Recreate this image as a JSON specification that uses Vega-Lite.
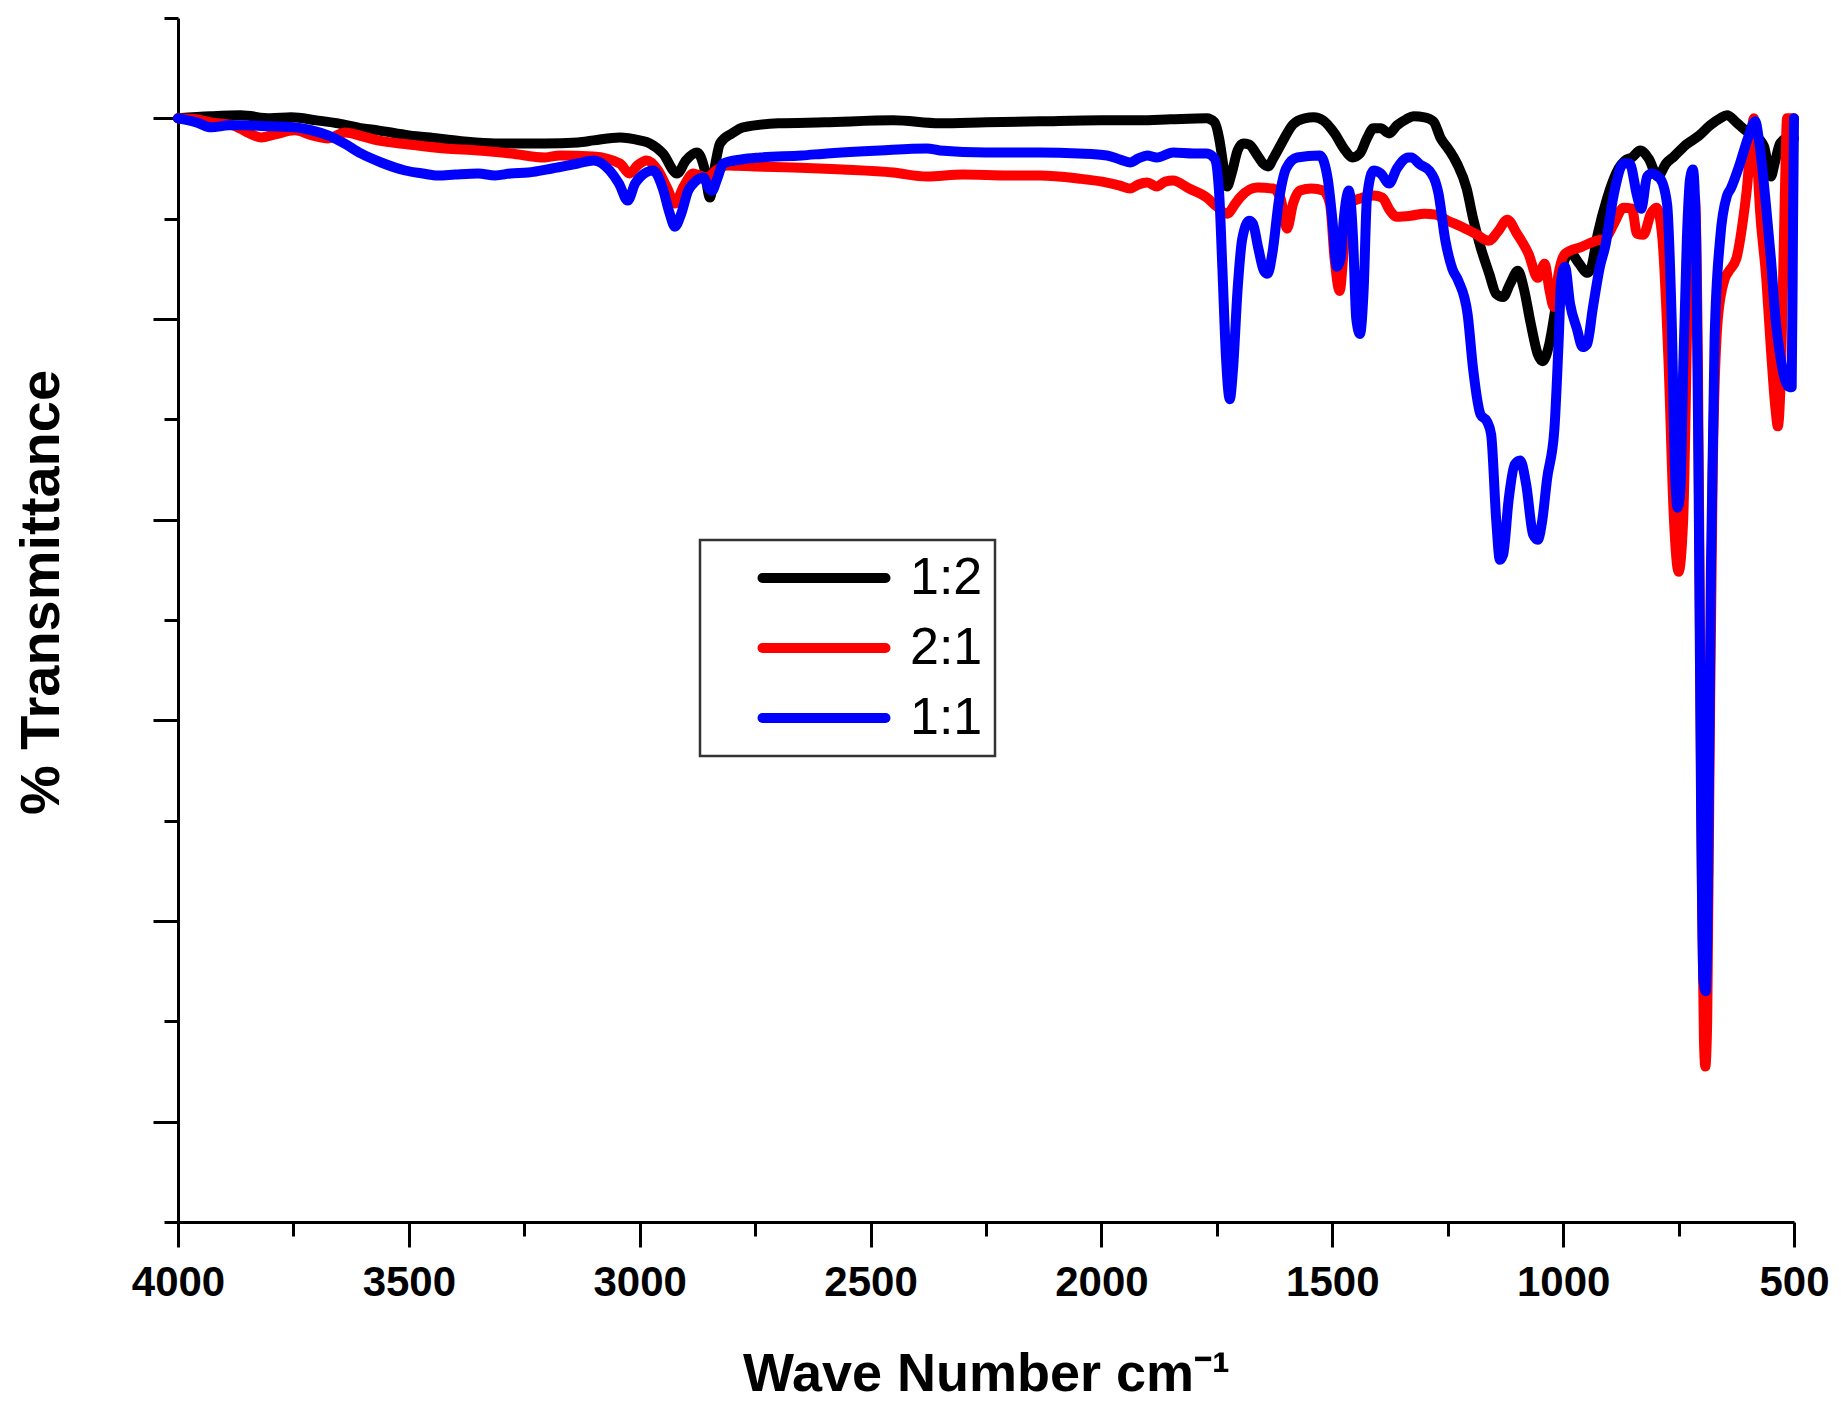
{
  "$schema": "https://vega.github.io/schema/vega-lite/v6.json",
  "width": 1616,
  "height": 1204,
  "autosize": {"type": "none"},
  "padding": {"left": 178, "top": 18, "right": 47, "bottom": 190},
  "background": "white",
  "config": {"view": {"stroke": null}, "font": "Liberation Sans"},
  "datasets": {
    "black": [
      [4000,100],[3930,100.2],[3864,100.3],[3800,100.0],[3755,100.1],[3700,99.8],[3653,99.5],[3600,99.0],[3567,98.8],[3500,98.3],[3437,98.0],[3380,97.7],[3313,97.5],[3250,97.5],[3205,97.5],[3134,97.6],[3100,97.8],[3043,98.1],[3000,97.8],[2978,97.5],[2950,96.5],[2919,94.5],[2900,95.8],[2876,96.6],[2860,95.0],[2848,92.1],[2836,95.5],[2826,97.5],[2800,98.5],[2776,99.1],[2700,99.5],[2600,99.6],[2451,99.8],[2350,99.5],[2250,99.6],[2133,99.7],[2000,99.8],[1917,99.8],[1850,99.9],[1772,100.0],[1755,99.6],[1745,98.0],[1735,95.0],[1728,93.2],[1718,94.5],[1705,96.8],[1693,97.5],[1680,97.4],[1665,96.5],[1650,95.5],[1639,95.2],[1628,96.0],[1610,97.5],[1585,99.4],[1560,100.0],[1540,100.1],[1520,99.8],[1495,98.5],[1475,97.0],[1456,96.1],[1440,96.5],[1425,98.0],[1411,99.0],[1395,99.0],[1377,98.5],[1360,99.3],[1340,99.9],[1324,100.2],[1300,100.1],[1281,99.7],[1265,98.0],[1248,96.9],[1230,95.5],[1209,93.0],[1195,90.0],[1179,87.2],[1160,84.5],[1145,82.5],[1130,82.2],[1115,83.5],[1098,84.8],[1085,83.0],[1070,79.5],[1055,76.5],[1044,75.8],[1030,77.5],[1015,81.5],[1000,85.5],[985,86.6],[965,85.5],[948,84.6],[940,85.0],[925,88.5],[905,92.0],[880,95.0],[866,95.8],[851,96.1],[833,96.8],[815,96.0],[795,94.2],[777,95.5],[760,96.2],[733,97.4],[705,98.3],[682,99.3],[660,100.0],[645,100.3],[625,99.6],[602,98.7],[585,98.3],[565,97.2],[550,94.2],[542,95.5],[530,97.5],[515,98.0],[500,98.0]
    ],
    "red": [
      [4000,100],[3960,99.9],[3928,99.6],[3880,99.3],[3850,98.6],[3820,98.1],[3790,98.4],[3747,98.8],[3710,98.3],[3675,98.0],[3638,98.6],[3600,98.2],[3567,97.8],[3500,97.4],[3422,97.0],[3350,96.8],[3279,96.5],[3205,96.1],[3173,96.3],[3101,96.2],[3043,95.5],[3022,94.5],[3005,95.3],[2985,95.8],[2960,94.8],[2940,93.0],[2924,91.5],[2905,93.2],[2884,94.5],[2870,94.3],[2854,94.1],[2835,94.8],[2811,95.3],[2750,95.2],[2668,95.1],[2560,94.9],[2451,94.6],[2378,94.2],[2300,94.4],[2200,94.3],[2133,94.3],[2050,94.0],[1988,93.6],[1960,93.3],[1938,93.0],[1920,93.4],[1901,93.6],[1880,93.2],[1862,93.7],[1845,93.8],[1810,93.0],[1772,92.1],[1750,91.2],[1728,90.5],[1710,91.5],[1700,92.1],[1662,93.1],[1628,93.0],[1612,92.0],[1598,89.0],[1585,91.5],[1570,92.8],[1545,93.0],[1520,92.8],[1505,91.5],[1495,86.0],[1484,82.8],[1475,87.0],[1465,91.5],[1440,92.0],[1411,92.3],[1392,92.1],[1375,90.8],[1362,90.2],[1330,90.3],[1300,90.5],[1276,90.4],[1250,89.8],[1220,89.2],[1190,88.5],[1161,87.8],[1140,88.8],[1121,89.9],[1100,88.5],[1075,86.5],[1055,84.1],[1040,85.5],[1030,83.0],[1020,81.2],[1010,84.5],[996,86.5],[960,87.2],[928,87.8],[909,88.0],[890,89.5],[869,91.1],[851,91.0],[840,88.5],[826,88.4],[810,90.5],[798,91.1],[785,88.0],[772,76.0],[760,60.0],[750,54.8],[740,60.0],[730,82.0],[722,92.5],[714,92.0],[708,75.0],[703,45.0],[699,22.0],[695,8.0],[692,5.5],[688,10.0],[683,35.0],[676,65.0],[665,80.0],[650,84.0],[642,84.7],[625,86.0],[610,90.0],[602,93.0],[592,98.5],[587,100.0],[580,96.0],[574,91.1],[560,84.0],[550,77.0],[540,71.0],[535,69.3],[528,75.0],[520,92.0],[515,100.0],[500,100.0]
    ],
    "blue": [
      [4000,100],[3960,99.6],[3928,99.1],[3890,99.3],[3855,99.3],[3800,99.2],[3747,99.1],[3710,98.8],[3675,98.3],[3640,97.5],[3604,96.5],[3560,95.6],[3508,94.8],[3470,94.5],[3437,94.3],[3400,94.4],[3350,94.5],[3313,94.3],[3280,94.5],[3242,94.6],[3190,95.0],[3134,95.5],[3100,95.8],[3065,94.8],[3045,93.5],[3026,91.8],[3010,93.5],[3000,94.1],[2971,94.8],[2950,93.0],[2935,90.5],[2924,89.2],[2910,90.5],[2895,92.8],[2884,93.5],[2862,94.1],[2850,93.0],[2843,92.8],[2832,94.0],[2819,95.5],[2780,95.9],[2739,96.1],[2650,96.3],[2594,96.5],[2480,96.8],[2378,97.0],[2350,96.8],[2250,96.6],[2133,96.6],[2050,96.5],[1988,96.3],[1960,95.9],[1938,95.6],[1920,96.0],[1901,96.3],[1880,96.1],[1845,96.6],[1800,96.5],[1772,96.5],[1755,96.0],[1745,92.5],[1738,85.0],[1730,76.0],[1722,72.0],[1715,75.0],[1705,83.0],[1695,88.0],[1680,89.8],[1672,89.5],[1660,87.0],[1648,84.8],[1640,84.5],[1630,86.5],[1615,92.0],[1600,95.0],[1576,96.1],[1527,96.3],[1510,94.0],[1500,90.0],[1490,85.2],[1482,86.0],[1475,90.0],[1464,92.8],[1455,88.0],[1448,80.0],[1440,78.5],[1432,83.0],[1425,92.0],[1411,94.8],[1395,94.5],[1377,93.5],[1360,95.0],[1335,96.1],[1329,96.1],[1310,95.4],[1290,94.8],[1270,92.5],[1255,87.8],[1240,85.0],[1227,83.8],[1207,80.5],[1195,75.0],[1179,70.5],[1165,69.8],[1156,68.5],[1145,60.0],[1137,56.0],[1130,56.5],[1118,62.0],[1105,65.5],[1093,65.9],[1080,63.5],[1065,58.5],[1055,58.0],[1045,60.0],[1035,64.0],[1019,69.0],[1010,77.5],[1004,84.0],[996,85.2],[985,81.5],[970,79.0],[958,77.2],[948,77.5],[936,81.0],[920,85.3],[909,87.2],[890,92.5],[869,95.5],[856,95.5],[840,92.3],[831,91.0],[818,94.2],[808,94.5],[790,94.0],[775,91.5],[765,80.0],[757,64.0],[752,61.2],[746,63.0],[740,75.0],[732,88.0],[725,94.0],[719,94.9],[712,88.0],[706,60.0],[701,30.0],[696,14.0],[691,13.0],[686,25.0],[680,55.0],[672,78.0],[660,88.0],[645,92.3],[637,93.0],[617,95.5],[600,98.0],[584,99.7],[575,97.5],[560,91.0],[550,86.0],[540,80.0],[530,76.4],[520,74.0],[510,73.2],[505,73.2],[502,90.0],[500,100.0]
    ]
  },
  "layer": [
    {
      "data": {"name": "black"},
      "transform": [
        {"calculate": "datum[0]", "as": "wn"},
        {"calculate": "datum[1]", "as": "t"},
        {"calculate": "'1:2'", "as": "ratio"}
      ],
      "mark": {"type": "line", "strokeWidth": 10, "interpolate": "monotone", "strokeJoin": "round", "strokeCap": "round"},
      "encoding": {
        "x": {"field": "wn", "type": "quantitative",
          "scale": {"domain": [500, 4000], "reverse": true, "nice": false, "zero": false},
          "axis": {"orient": "bottom", "values": [4000, 3500, 3000, 2500, 2000, 1500, 1000, 500], "format": "d",
            "title": "Wave Number cm⁻¹", "grid": false,
            "labelFont": "Liberation Sans", "labelFontSize": 42, "labelFontWeight": "bold", "labelColor": "black",
            "labelPadding": 15, "labelOverlap": false, "labelFlush": false,
            "tickSize": 25, "tickWidth": 3, "tickColor": "black", "domainColor": "black", "domainWidth": 3,
            "titleFont": "Liberation Sans", "titleFontSize": 54, "titleFontWeight": "bold", "titleColor": "black", "titlePadding": 44}},
        "y": {"field": "t", "type": "quantitative",
          "scale": {"domain": [-10, 110], "nice": false, "zero": false},
          "axis": {"orient": "left", "values": [0, 20, 40, 60, 80, 100], "labels": false, "grid": false,
            "title": "% Transmittance",
            "tickSize": 25, "tickWidth": 3, "tickColor": "black", "domainColor": "black", "domainWidth": 3,
            "titleFont": "Liberation Sans", "titleFontSize": 56, "titleFontWeight": "bold", "titleColor": "black",
            "titlePadding": 81, "titleY": 574}},
        "order": {"field": "wn", "type": "quantitative", "sort": "descending"},
        "color": {"field": "ratio", "type": "nominal",
          "scale": {"domain": ["1:2", "2:1", "1:1"], "range": ["#000000", "#ff0000", "#0000ff"]},
          "legend": {"orient": "none", "legendX": 522, "legendY": 522, "title": null, "direction": "vertical",
            "symbolType": "M-3.075,0H3.075", "symbolSize": 1600, "symbolStrokeWidth": 10, "symbolOffset": 86,
            "labelFont": "Liberation Sans", "labelFontSize": 52, "labelColor": "black", "labelOffset": 60,
            "rowPadding": 18, "padding": 12, "strokeColor": "#333333", "fillColor": "white",
            "encode": {"symbols": {"update": {"strokeCap": {"value": "round"}}}, "legend": {"update": {"strokeWidth": {"value": 2.5}}}}}}
      }
    },
    {
      "data": {"name": "red"},
      "transform": [
        {"calculate": "datum[0]", "as": "wn"},
        {"calculate": "datum[1]", "as": "t"},
        {"calculate": "'2:1'", "as": "ratio"}
      ],
      "mark": {"type": "line", "strokeWidth": 10, "interpolate": "monotone", "strokeJoin": "round", "strokeCap": "round"},
      "encoding": {
        "x": {"field": "wn", "type": "quantitative",
          "axis": {"orient": "bottom", "values": [3750, 3250, 2750, 2250, 1750, 1250, 750], "labels": false, "title": null, "domain": false, "grid": false,
            "tickSize": 14, "tickWidth": 3, "tickColor": "black"}},
        "y": {"field": "t", "type": "quantitative",
          "axis": {"orient": "left", "values": [-10, 10, 30, 50, 70, 90, 110], "labels": false, "title": null, "domain": false, "grid": false,
            "tickSize": 14, "tickWidth": 3, "tickColor": "black"}},
        "order": {"field": "wn", "type": "quantitative", "sort": "descending"},
        "color": {"field": "ratio", "type": "nominal"}
      }
    },
    {
      "data": {"name": "blue"},
      "transform": [
        {"calculate": "datum[0]", "as": "wn"},
        {"calculate": "datum[1]", "as": "t"},
        {"calculate": "'1:1'", "as": "ratio"}
      ],
      "mark": {"type": "line", "strokeWidth": 10, "interpolate": "monotone", "strokeJoin": "round", "strokeCap": "round"},
      "encoding": {
        "x": {"field": "wn", "type": "quantitative", "axis": null},
        "y": {"field": "t", "type": "quantitative", "axis": null},
        "order": {"field": "wn", "type": "quantitative", "sort": "descending"},
        "color": {"field": "ratio", "type": "nominal"}
      }
    }
  ],
  "resolve": {"axis": {"x": "independent", "y": "independent"}}
}
